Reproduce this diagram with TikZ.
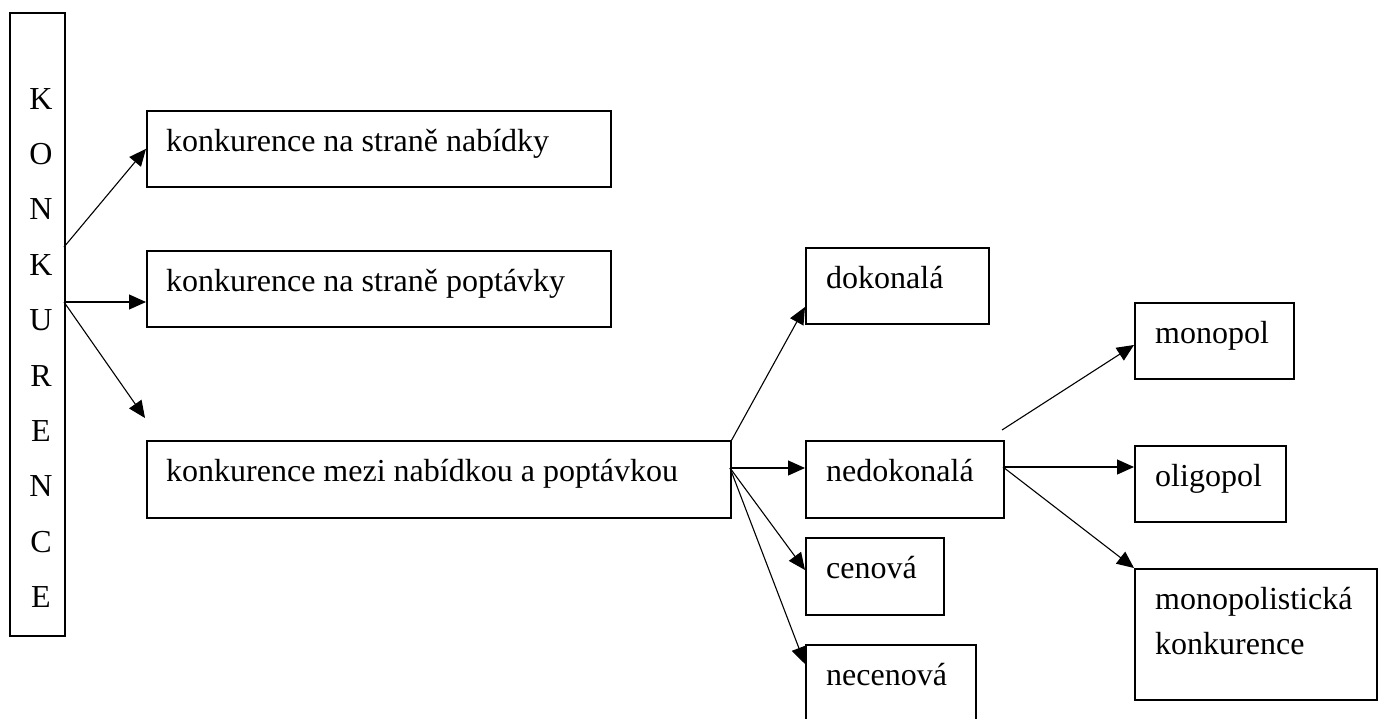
\documentclass[tikz,border=0pt]{standalone}
\usepackage{fontspec}
\setmainfont{Liberation Serif}
\usetikzlibrary{arrows.meta}
\begin{document}
\begin{tikzpicture}[x=1pt,y=-1pt,
  box/.style={draw, line width=1.7pt, inner sep=0pt, anchor=north west},
  txt/.style={anchor=base west, inner sep=0pt, font=\fontsize{32}{45}\selectfont},
  letter/.style={anchor=base, inner sep=0pt, font=\fontsize{32}{45}\selectfont},
  arr/.style={line width=1.1pt, -{Triangle[length=17pt,width=15pt]}}]
\useasboundingbox (0,0) rectangle (1379,718);

% vertical box
\node[box, minimum width=55pt, minimum height=623pt] (K) at (9,12) {};
\foreach \l [count=\i] in {K,O,N,K,U,R,E,N,C,E}
  \node[letter] (L\i) at (41,{109+55.4*(\i-1)}) {\l};

% first level
\node[box, minimum width=464pt, minimum height=76pt] (A) at (146,110) {};
\node[txt] (tA) at (166,151) {konkurence na straně nabídky};
\node[box, minimum width=464pt, minimum height=76pt] (B) at (146,250) {};
\node[txt] (tB) at (166,291) {konkurence na straně poptávky};
\node[box, minimum width=584pt, minimum height=77pt] (C) at (146,440) {};
\node[txt] (tC) at (166,481) {konkurence mezi nabídkou a poptávkou};

% second level
\node[box, minimum width=183pt, minimum height=76pt] (D) at (805,247) {};
\node[txt] (tD) at (826,288) {dokonalá};
\node[box, minimum width=198pt, minimum height=77pt] (N) at (805,440) {};
\node[txt] (tN) at (826,481) {nedokonalá};
\node[box, minimum width=138pt, minimum height=77pt] (Ce) at (805,537) {};
\node[txt] (tCe) at (826,578) {cenová};
\node[box, minimum width=170pt, minimum height=100pt] (Ne) at (805,644) {};
\node[txt] (tNe) at (826,685) {necenová};

% third level
\node[box, minimum width=159pt, minimum height=76pt] (M) at (1134,302) {};
\node[txt] (tM) at (1155,343) {monopol};
\node[box, minimum width=151pt, minimum height=76pt] (O) at (1134,445) {};
\node[txt] (tO) at (1155,486) {oligopol};
\node[box, minimum width=242pt, minimum height=131pt] (MK) at (1134,568) {};
\node[txt] (tMK1) at (1155,609) {monopolistická};
\node[txt] (tMK2) at (1155,654) {konkurence};

% connector points
\coordinate (k1) at (64,247);
\coordinate (k2) at (64,302);
\coordinate (k3) at (145,418);
\coordinate (b1) at (146,302);
\coordinate (c0) at (730,468);
\coordinate (d1) at (805,307);
\coordinate (n1) at (805,468);
\coordinate (ce1) at (805,570);
\coordinate (ne1) at (805,664);
\coordinate (m0) at (1002,430);
\coordinate (m1) at (1134,345);
\coordinate (n0) at (1003,467);
\coordinate (o1) at (1134,467);

% connectors
\draw[arr] (k1) -- (A.west);
\draw[arr] (k2) -- (b1);
\draw[arr] (k2) -- (k3);
\draw[arr] (C.north east) -- (d1);
\draw[arr] (c0) -- (n1);
\draw[arr] (c0) -- (ce1);
\draw[arr] (c0) -- (ne1);
\draw[arr] (m0) -- (m1);
\draw[arr] (n0) -- (o1);
\draw[arr] (n0) -- (MK.north west);
\end{tikzpicture}
\end{document}
